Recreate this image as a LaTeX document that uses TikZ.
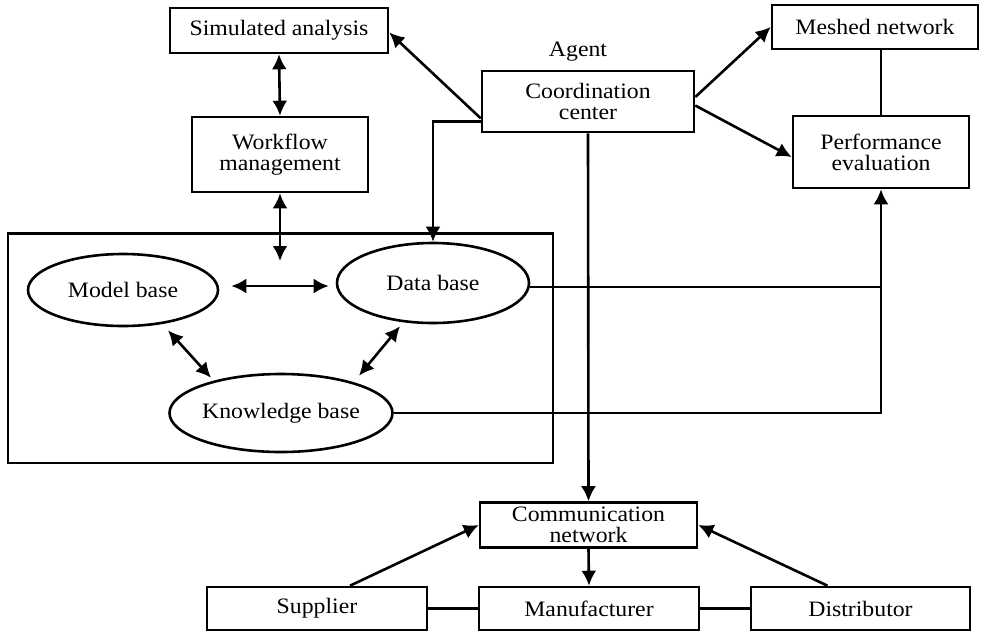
\documentclass[tikz,border=0pt]{standalone}
\usepackage{fontspec}
\setmainfont{Liberation Serif}[FakeStretch=1.08]
\usetikzlibrary{arrows.meta,shapes.geometric}
\begin{document}
\begin{tikzpicture}[x=1pt,y=-1pt,
  every node/.style={font=\fontsize{22}{21}\selectfont, align=center},
  box/.style={draw, line width=2.6pt, inner sep=0pt},
  oval/.style={draw, ellipse, line width=2.6pt, inner sep=0pt},
  conn/.style={line width=2.6pt},
  tip/.style={},
  arr/.style={conn, -{Latex[length=15pt,width=15pt]}},
  dbl/.style={conn, {Latex[length=15pt,width=15pt]}-{Latex[length=15pt,width=15pt]}}]
\useasboundingbox (0,0) rectangle (983,633);

% upper boxes
\node[box, minimum width=218pt, minimum height=45pt] (sim) at (279,30.5) {Simulated analysis};
\node[box, minimum width=176pt, minimum height=75pt] (wf) at (280,154.5) {Workflow\\management};
\node[box, minimum width=212pt, minimum height=61pt] (coord) at (588,101.5) {Coordination\\center};
\node (agent) at (578,52) {Agent};
\node[box, minimum width=206pt, minimum height=44pt] (mesh) at (875,27) {Meshed network};
\node[box, minimum width=176pt, minimum height=72pt] (perf) at (881,152) {Performance\\evaluation};

% knowledge system frame
\draw[line width=2.6pt] (8,233.5) rectangle (553,463);
\node[oval, minimum width=190pt, minimum height=72pt] (model) at (123,290) {Model base};
\node[oval, minimum width=192pt, minimum height=80pt] (data) at (433,283) {Data base};
\node[oval, minimum width=188pt, minimum height=78pt] (kb) at (281,413) {Knowledge base};
\coordinate (wfend) at (280,261);

% lower boxes
\node[box, minimum width=217pt, minimum height=45pt] (comm) at (588.5,525) {Communication\\network};
\node[box, minimum width=220pt, minimum height=43pt] (sup) at (317,608.5) {Supplier};
\node[box, minimum width=220pt, minimum height=43pt] (man) at (589,608.5) {Manufacturer};
\node[box, minimum width=219pt, minimum height=43pt] (dist) at (860.5,608.5) {Distributor};

% connectors
\draw[dbl] (sim.south) -- (wf.north);
\draw[dbl] (wf.south) -- (wfend);
\draw[arr] ([yshift=15pt]coord.south west) -- ([yshift=-2pt]sim.east);
\draw[arr] ([yshift=12pt]coord.south west) -| (data.north);
\draw[arr] ([yshift=4.5pt]coord.east) -- (mesh.west);
\draw[arr] ([yshift=-4pt]coord.east) -- ([yshift=-5pt]perf.west);
\draw[conn] (perf.north) -- (perf.north |- mesh.south);
\draw[arr] (coord.south) -- (comm.north);

\draw[dbl] ([xshift=12pt,yshift=4pt]model.east) -- ([xshift=-7pt,yshift=-3pt]data.west);
\draw[dbl] ([xshift=45pt,yshift=-3pt]model.south) -- ([xshift=-70pt,yshift=-5pt]kb.north);
\draw[dbl] ([xshift=-33pt,yshift=-2pt]data.south) -- ([xshift=78pt,yshift=-3pt]kb.north);

\draw[conn] ([yshift=-4pt]data.east) -- ([yshift=-4pt]data.east -| perf.south);
\draw[arr] (kb.east) -| (perf.south);

\draw[arr] (comm.south) -- (man.north);
\draw[arr] ([xshift=33pt]sup.north) -- (comm.west);
\draw[arr] ([xshift=-33pt]dist.north) -- (comm.east);
\draw[conn] (sup.east) -- (man.west);
\draw[conn] (man.east) -- (dist.west);
\end{tikzpicture}
\end{document}
